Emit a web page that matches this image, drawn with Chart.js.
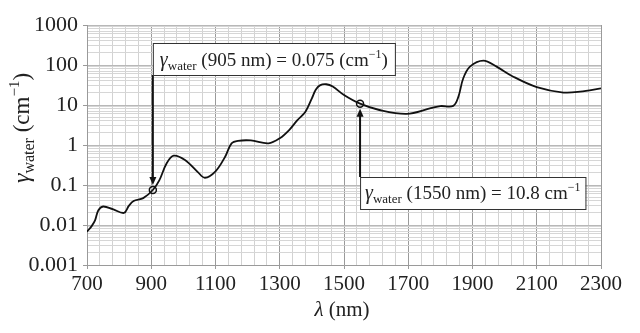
<!DOCTYPE html>
<html>
<head>
<meta charset="utf-8">
<script src="https://cdn.jsdelivr.net/npm/chart.js@4/dist/chart.umd.min.js"></script>
<style>
html,body{margin:0;padding:0;background:#fff;}
#wrap{width:640px;height:333px;position:relative;}
</style>
</head>
<body>
<div id="wrap"><canvas id="c" width="640" height="333"></canvas></div>
<script>
// Wavelength (nm) and water absorption coefficient (cm^-1)
const wavelengths = [700,715,725,735,750,780,815,830,845,875,905,925,948,970,1005,1045,1067,1100,1130,1150,1170,1210,1265,1300,1330,1355,1380,1400,1412,1425,1445,1465,1500,1550,1610,1695,1770,1800,1840,1856,1871,1892,1934,1975,2027,2100,2183,2235,2300];
const gammaWater = [0.0068,0.0095,0.013,0.023,0.029,0.025,0.020,0.030,0.040,0.047,0.075,0.13,0.35,0.54,0.42,0.21,0.152,0.22,0.51,1.1,1.27,1.3,1.1,1.47,2.4,4.2,6.8,14.7,24,31,33,29,17.8,10.8,7.5,6.0,8.3,9.4,9.5,16,46,91,129,91,51,28,20.5,21.5,26];
// Highlighted points
const markWavelengths = [905, 1550];
const markValues = [0.075, 10.8];
const markLabels = [
  {pre:'(905 nm) = 0.075 (cm', sup:'\u22121', post:')'},
  {pre:'(1550 nm) = 10.8 cm', sup:'\u22121', post:''}
];
// Axis ticks
const xTickValues = [];
for (let v = 700; v <= 2300; v += 40) xTickValues.push(v);
const xLabelValues = [700,900,1100,1300,1500,1700,1900,2100,2300];
const yDecades = [0.001,0.01,0.1,1,10,100,1000];
const yDecadeLabels = ['0.001','0.01','0.1','1','10','100','1000'];

const yTickValues = [];
for (let d = 0; d < yDecades.length; d++) {
  const base = yDecades[d];
  if (d === yDecades.length - 1) { yTickValues.push(base); break; }
  for (let m = 1; m <= 9; m++) yTickValues.push(+(base * m).toPrecision(6));
}
function isDecade(v){ return yDecades.some(d => Math.abs(v - d) / d < 1e-6); }

const SERIF = '"Liberation Serif", "DejaVu Serif", serif';

function drawRich(ctx, x, y, parts, align) {
  let total = 0;
  parts.forEach(p => { ctx.font = (p.italic ? 'italic ' : '') + p.size + 'px ' + SERIF; p.w = ctx.measureText(p.t).width; total += p.w; });
  let cx = align === 'center' ? x - total / 2 : x;
  parts.forEach(p => {
    ctx.font = (p.italic ? 'italic ' : '') + p.size + 'px ' + SERIF;
    ctx.fillText(p.t, cx, y + (p.dy || 0));
    cx += p.w;
  });
  return total;
}
function richWidth(ctx, parts){
  let total = 0;
  parts.forEach(p => { ctx.font = (p.italic ? 'italic ' : '') + p.size + 'px ' + SERIF; total += ctx.measureText(p.t).width; });
  return total;
}
function labelParts(l){
  return [
    {t:'\u03B3', size:20, italic:true},
    {t:'water', size:13, dy:4},
    {t:' ' + l.pre, size:19},
    {t:l.sup, size:12, dy:-8},
    {t:l.post, size:19}
  ];
}
function arrow(ctx, x, y1, y2){
  const dir = Math.sign(y2 - y1);
  ctx.strokeStyle = '#111'; ctx.fillStyle = '#111'; ctx.lineWidth = 2;
  ctx.beginPath(); ctx.moveTo(x, y1); ctx.lineTo(x, y2 - dir * 7); ctx.stroke();
  ctx.beginPath(); ctx.moveTo(x, y2); ctx.lineTo(x - 3.5, y2 - dir * 8); ctx.lineTo(x + 3.5, y2 - dir * 8); ctx.closePath(); ctx.fill();
}

const overlay = {
  id: 'overlay',
  afterDraw(chart) {
    const ctx = chart.ctx;
    const xs = chart.scales.x, ys = chart.scales.y;
    ctx.save();
    ctx.fillStyle = '#222';
    ctx.textBaseline = 'alphabetic';
    // y axis title
    ctx.save();
    ctx.translate(29, 128);
    ctx.rotate(-Math.PI / 2);
    drawRich(ctx, 0, 0, [
      {t:'\u03B3', size:24, italic:true},
      {t:'water', size:16, dy:5},
      {t:' (cm', size:23},
      {t:'\u22121', size:15, dy:-10},
      {t:')', size:23}
    ], 'center');
    ctx.restore();
    // x axis title
    drawRich(ctx, 342, 316, [
      {t:'\u03BB', size:21, italic:true},
      {t:' (nm)', size:21}
    ], 'center');

    const p1x = xs.getPixelForValue(markWavelengths[0]);
    const p1y = ys.getPixelForValue(markValues[0]);
    const p2x = xs.getPixelForValue(markWavelengths[1]);
    const p2y = ys.getPixelForValue(markValues[1]);

    const parts1 = labelParts(markLabels[0]);
    const w1 = richWidth(ctx, parts1);
    const b1 = {x: p1x, y: 43, w: w1 + 14, h: 32};
    arrow(ctx, p1x, b1.y + b1.h, p1y - 5);
    ctx.fillStyle = '#fff'; ctx.strokeStyle = '#333'; ctx.lineWidth = 1;
    ctx.fillRect(b1.x, b1.y, b1.w, b1.h);
    ctx.strokeRect(b1.x + 0.5, b1.y + 0.5, b1.w, b1.h);
    ctx.fillStyle = '#222';
    drawRich(ctx, b1.x + 7, b1.y + 23, parts1, 'left');

    const parts2 = labelParts(markLabels[1]);
    const w2 = richWidth(ctx, parts2);
    const b2 = {x: p2x, y: 177, w: w2 + 10, h: 32};
    arrow(ctx, p2x, b2.y, p2y + 5);
    ctx.fillStyle = '#fff'; ctx.strokeStyle = '#333'; ctx.lineWidth = 1;
    ctx.fillRect(b2.x, b2.y, b2.w, b2.h);
    ctx.strokeRect(b2.x + 0.5, b2.y + 0.5, b2.w, b2.h);
    ctx.fillStyle = '#222';
    drawRich(ctx, b2.x + 5, b2.y + 22, parts2, 'left');
    ctx.restore();
  }
};

new Chart(document.getElementById('c'), {
  type: 'line',
  data: {
    datasets: [
      {
        data: wavelengths.map((w, i) => ({x: w, y: gammaWater[i]})),
        borderColor: '#111',
        borderWidth: 1.8,
        pointRadius: 0,
        tension: 0.35,
        fill: false
      },
      {
        data: markWavelengths.map((w, i) => ({x: w, y: markValues[i]})),
        showLine: false,
        pointRadius: 3.5,
        pointBorderWidth: 1.5,
        pointBorderColor: '#111',
        pointBackgroundColor: 'rgba(0,0,0,0)'
      }
    ]
  },
  options: {
    responsive: false,
    animation: false,
    layout: {padding: {left: 0, right: 39, top: 25, bottom: 0}},
    plugins: {legend: {display: false}, tooltip: {enabled: false}},
    scales: {
      x: {
        type: 'linear',
        min: 700, max: 2300,
        afterBuildTicks: s => { s.ticks = xTickValues.map(v => ({value: v})); },
        afterFit: s => { s.height = 68; },
        grid: {
          color: c => xLabelValues.includes(c.tick.value) ? '#9a9a9a' : '#d2d2d2',
          lineWidth: 1,
          tickLength: 4,
          tickColor: c => xLabelValues.includes(c.tick.value) ? '#9a9a9a' : 'rgba(0,0,0,0)'
        },
        border: {color: '#9a9a9a'},
        ticks: {
          autoSkip: false, maxRotation: 0, padding: 3,
          font: {family: SERIF, size: 21},
          color: '#222',
          callback: v => xLabelValues.includes(v) ? String(v) : ''
        }
      },
      y: {
        type: 'logarithmic',
        min: 0.001, max: 1000,
        afterBuildTicks: s => { s.ticks = yTickValues.map(v => ({value: v})); },
        afterFit: s => { s.width = 87; },
        grid: {
          color: c => isDecade(c.tick.value) ? '#b8b8b8' : '#d6d6d6',
          lineWidth: 1,
          tickLength: 4,
          tickColor: c => isDecade(c.tick.value) ? '#9a9a9a' : 'rgba(0,0,0,0)'
        },
        border: {color: '#9a9a9a'},
        ticks: {
          autoSkip: false, padding: 5,
          font: {family: SERIF, size: 22},
          color: '#222',
          callback: v => { const i = yDecades.findIndex(d => Math.abs(v - d) / d < 1e-6); return i >= 0 ? yDecadeLabels[i] : ''; }
        }
      }
    }
  },
  plugins: [overlay]
});
</script>
</body>
</html>
